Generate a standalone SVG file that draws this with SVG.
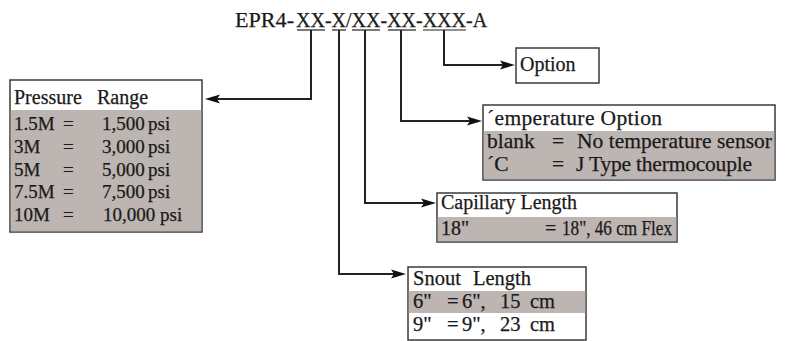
<svg xmlns="http://www.w3.org/2000/svg" width="787" height="341" viewBox="0 0 787 341">
<style>
text{font-family:'Liberation Serif','Times New Roman',serif;fill:#1a1a1a;stroke:#1a1a1a;stroke-width:0.25}
.t{font-size:20px}
.h{font-size:20px}
.r{font-size:19px}
.tp{font-size:21.5px}
.sn{font-size:20.5px}
.box{fill:#fff;stroke:#3a3a3a;stroke-width:1.5}
.g{fill:#bcb5b1}
.ln{fill:none;stroke:#222;stroke-width:2}
.ul{stroke:#222;stroke-width:1.2}
</style>
<defs>
<marker id="ah" markerUnits="userSpaceOnUse" viewBox="-6 -6 18 12" markerWidth="18" markerHeight="12" refX="0" refY="0" orient="auto">
<path d="M10,0 L-5,-4.5 L-2,0 L-5,4.5 Z" fill="#111"/>
</marker>
</defs>
<g id="title">
<text class="t" y="27"><tspan x="235" font-size="21" textLength="59" lengthAdjust="spacingAndGlyphs">EPR4-</tspan><tspan x="296">XX-X/XX-XX-XXX-A</tspan></text>
<line class="ul" x1="297" y1="30" x2="325" y2="30"/>
<line class="ul" x1="332" y1="30" x2="346" y2="30"/>
<line class="ul" x1="352" y1="30" x2="380" y2="30"/>
<line class="ul" x1="388" y1="30" x2="416" y2="30"/>
<line class="ul" x1="423" y1="30" x2="466" y2="30"/>
</g>
<g id="connectors">
<polyline class="ln" points="311,30 311,99 215,99" marker-end="url(#ah)"/>
<polyline class="ln" points="339,30 339,274 396,274" marker-end="url(#ah)"/>
<polyline class="ln" points="365,30 365,203 426,203" marker-end="url(#ah)"/>
<polyline class="ln" points="401,30 401,121 472,121" marker-end="url(#ah)"/>
<polyline class="ln" points="444,30 444,65 505,65" marker-end="url(#ah)"/>
</g>
<g id="pressure">
<rect class="box" x="10" y="80" width="192" height="152"/>
<rect class="g" x="10.75" y="110" width="190.5" height="121.25"/>
<text class="h" y="104"><tspan x="14">Pressure</tspan><tspan x="97">Range</tspan></text>
<text class="r" y="130"><tspan x="14">1.5M</tspan><tspan x="63">=</tspan><tspan x="102">1,500</tspan><tspan x="148">psi</tspan></text>
<text class="r" y="153"><tspan x="14">3M</tspan><tspan x="63">=</tspan><tspan x="102">3,000</tspan><tspan x="148">psi</tspan></text>
<text class="r" y="176"><tspan x="14">5M</tspan><tspan x="63">=</tspan><tspan x="102">5,000</tspan><tspan x="148">psi</tspan></text>
<text class="r" y="198"><tspan x="14">7.5M</tspan><tspan x="63">=</tspan><tspan x="102">7,500</tspan><tspan x="148">psi</tspan></text>
<text class="r" y="221"><tspan x="14">10M</tspan><tspan x="63">=</tspan><tspan x="103">10,000</tspan><tspan x="160">psi</tspan></text>
</g>
<g id="option">
<rect class="box" x="516" y="48" width="83" height="35"/>
<text class="h" x="520" y="71">Option</text>
</g>
<g id="temperature">
<rect class="box" x="483" y="105" width="292" height="75"/>
<rect class="g" x="483.75" y="131" width="290.5" height="48.25"/>
<text class="tp" x="487" y="125" textLength="175" lengthAdjust="spacing">ˊemperature Option</text>
<text class="tp" y="148"><tspan x="487">blank</tspan><tspan x="552">=</tspan><tspan x="577" textLength="195" lengthAdjust="spacing">No temperature sensor</tspan></text>
<text class="tp" y="171"><tspan x="487">ˊC</tspan><tspan x="552">=</tspan><tspan x="576" textLength="176" lengthAdjust="spacing">J Type thermocouple</tspan></text>
</g>
<g id="capillary">
<rect class="box" x="437" y="193" width="240" height="49"/>
<rect class="g" x="437.75" y="217" width="238.5" height="24.25"/>
<text class="h" x="441" y="209">Capillary Length</text>
<text class="h" y="235"><tspan x="441">18"</tspan><tspan x="545">=</tspan><tspan x="562" textLength="110" lengthAdjust="spacingAndGlyphs">18", 46 cm Flex</tspan></text>
</g>
<g id="snout">
<rect class="box" x="408" y="267" width="178" height="73"/>
<rect class="g" x="408.75" y="291" width="176.5" height="22"/>
<text class="sn" y="285"><tspan x="413">Snout</tspan><tspan x="473">Length</tspan></text>
<text class="sn" y="308"><tspan x="413">6"</tspan><tspan x="447">=</tspan><tspan x="462">6",</tspan><tspan x="500">15</tspan><tspan x="530">cm</tspan></text>
<text class="sn" y="331"><tspan x="413">9"</tspan><tspan x="447">=</tspan><tspan x="462">9",</tspan><tspan x="500">23</tspan><tspan x="530">cm</tspan></text>
</g>
</svg>
